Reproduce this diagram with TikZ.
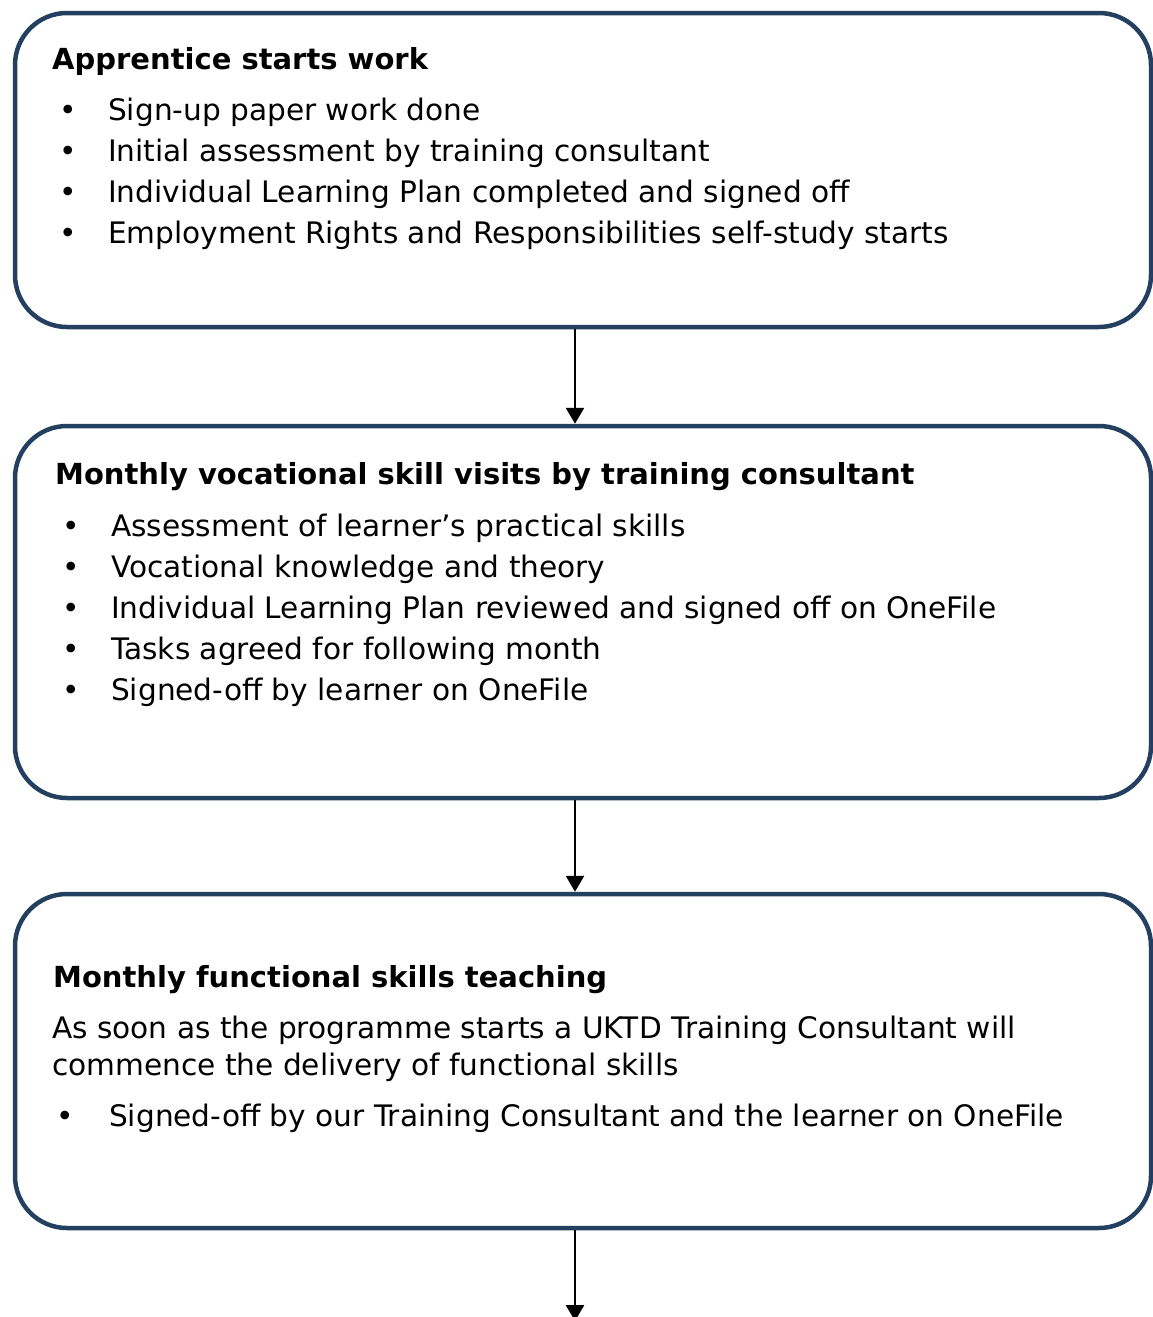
\documentclass[tikz,border=0pt]{standalone}
\usepackage{fontspec}
\setmainfont{DejaVu Sans}
\usetikzlibrary{arrows.meta}
\definecolor{frame}{RGB}{36,64,97}
\begin{document}
\begin{tikzpicture}[x=1pt,y=-1pt,
  stagebox/.style={draw=frame, line width=4.5pt, rounded corners=52pt,
    minimum width=1136pt, inner sep=0pt},
  txt/.style={anchor=base west, inner sep=0pt, font=\fontsize{29.6}{36}\selectfont},
  head/.style={txt, font=\fontsize{29}{36}\selectfont\bfseries},
  dot/.style={txt},
  flow/.style={line width=2.7pt, -{Triangle[width=18pt,length=16pt]}}]
\useasboundingbox (0,0) rectangle (1152,1317);

% three stage boxes
\node[stagebox, minimum height=314pt] (s1) at (583,170) {};
\node[stagebox, minimum height=372pt] (s2) at (583,612) {};
\node[stagebox, minimum height=334pt] (s3) at (583,1061) {};

% stage 1
\node[head] (h1) at (52,69) {Apprentice starts work};
\node[dot] (b11) at (59,120) {•};
\node[txt] (t11) at (108,120) {Sign-up paper work done};
\node[dot] (b12) at (59,161) {•};
\node[txt] (t12) at (108,161) {Initial assessment by training consultant};
\node[dot] (b13) at (59,202) {•};
\node[txt] (t13) at (108,202) {Individual Learning Plan completed and signed off};
\node[dot] (b14) at (59,243) {•};
\node[txt] (t14) at (108,243) {Employment Rights and Responsibilities self-study starts};

% stage 2
\node[head] (h2) at (55,484) {Monthly vocational skill visits by training consultant};
\node[dot] (b21) at (62,536) {•};
\node[txt] (t21) at (111,536) {Assessment of learner’s practical skills};
\node[dot] (b22) at (62,577) {•};
\node[txt] (t22) at (111,577) {Vocational knowledge and theory};
\node[dot] (b23) at (62,618) {•};
\node[txt] (t23) at (111,618) {Individual Learning Plan reviewed and signed off on OneFile};
\node[dot] (b24) at (62,659) {•};
\node[txt] (t24) at (111,659) {Tasks agreed for following month};
\node[dot] (b25) at (62,700) {•};
\node[txt] (t25) at (111,700) {Signed-off by learner on OneFile};

% stage 3
\node[head] (h3) at (53,987) {Monthly functional skills teaching};
\node[txt] (p31) at (52,1038) {As soon as the programme starts a UKTD Training Consultant will};
\node[txt] (p32) at (52,1075) {commence the delivery of functional skills};
\node[dot] (b31) at (56,1126) {•};
\node[txt] (t31) at (109,1126) {Signed-off by our Training Consultant and the learner on OneFile};

% connectors
\coordinate (axis) at (575,0);
\coordinate (next) at (575,1321);
\draw[flow] (s1.south -| axis) -- (s2.north -| axis);
\draw[flow] (s2.south -| axis) -- (s3.north -| axis);
\draw[flow] (s3.south -| axis) -- (next);
\end{tikzpicture}
\end{document}
